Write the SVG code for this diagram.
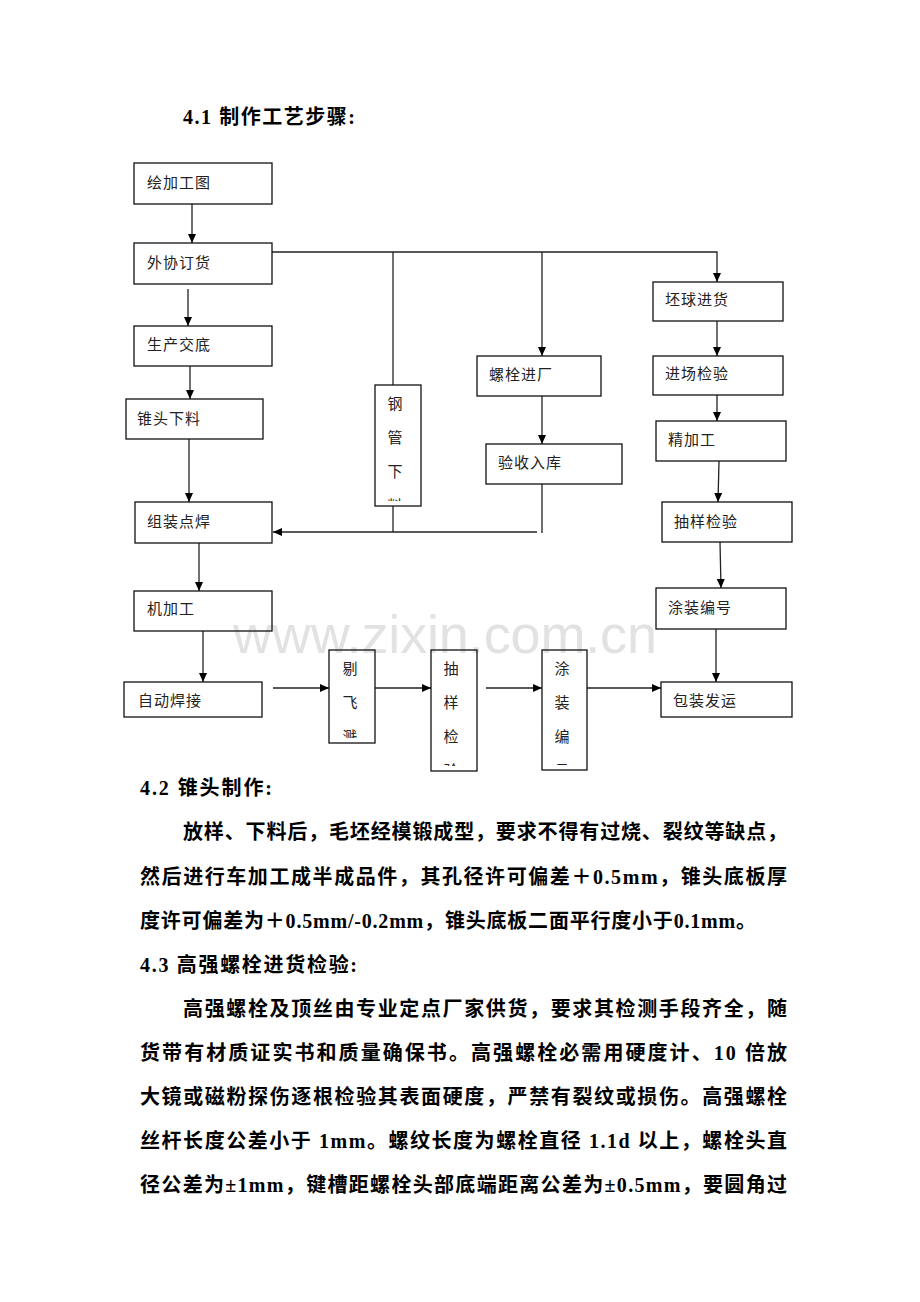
<svg xmlns="http://www.w3.org/2000/svg" width="920" height="1302" viewBox="0 0 920 1302">
<style>
.bx{fill:none;stroke:#111;stroke-width:1.3}
.ln{fill:none;stroke:#222;stroke-width:1.3}
.lb{font-family:"Noto Sans CJK SC",sans-serif;font-size:15px;fill:#222;letter-spacing:1px}
.vl{font-family:"Noto Sans CJK SC",sans-serif;font-size:15px;fill:#222;text-anchor:middle}
.h{font-family:"Liberation Serif","Noto Sans CJK SC",serif;font-size:20px;font-weight:bold;fill:#000}
.t{font-family:"Liberation Serif","Noto Sans CJK SC",serif;font-size:20px;font-weight:bold;fill:#000}
.wm{font-family:"Liberation Sans",Arial,sans-serif;font-size:54px;fill:#e2e2e2}
</style>
<defs>
<marker id="ah" markerWidth="9" markerHeight="8" refX="9" refY="4" orient="auto" markerUnits="userSpaceOnUse"><path d="M0,0 L9,4 L0,8 z" fill="#000"/></marker>
<clipPath id="c1"><rect x="375" y="385" width="46" height="116"/></clipPath>
<clipPath id="c2"><rect x="329" y="650" width="46" height="88"/></clipPath>
<clipPath id="c3"><rect x="431" y="650" width="46" height="116"/></clipPath>
<clipPath id="c4"><rect x="542" y="650" width="45" height="115"/></clipPath>
</defs>
<rect width="920" height="1302" fill="#fff"/>
<text class="wm" x="233" y="653" textLength="424">www.zixin.com.cn</text>

<text class="h" x="183" y="124" textLength="172">4.1 制作工艺步骤:</text>

<g id="connectors">
<line class="ln" x1="192" y1="204" x2="192" y2="243" marker-end="url(#ah)"/>
<line class="ln" x1="188" y1="289" x2="188" y2="326" marker-end="url(#ah)"/>
<line class="ln" x1="190" y1="366" x2="190" y2="399" marker-end="url(#ah)"/>
<line class="ln" x1="189" y1="439" x2="189" y2="502" marker-end="url(#ah)"/>
<line class="ln" x1="199" y1="543" x2="199" y2="591" marker-end="url(#ah)"/>
<line class="ln" x1="203" y1="631" x2="203" y2="682" marker-end="url(#ah)"/>
<line class="ln" x1="273" y1="688" x2="329" y2="688" marker-end="url(#ah)"/>
<line class="ln" x1="375" y1="688" x2="431" y2="688" marker-end="url(#ah)"/>
<line class="ln" x1="486" y1="688" x2="542" y2="688" marker-end="url(#ah)"/>
<line class="ln" x1="587" y1="688" x2="661" y2="688" marker-end="url(#ah)"/>
<polyline class="ln" points="272,252 717,252 717,282" marker-end="url(#ah)"/>
<line class="ln" x1="393" y1="252" x2="393" y2="385"/>
<line class="ln" x1="542" y1="252" x2="542" y2="356" marker-end="url(#ah)"/>
<line class="ln" x1="542" y1="396" x2="542" y2="444" marker-end="url(#ah)"/>
<line class="ln" x1="393" y1="506" x2="393" y2="532"/>
<line class="ln" x1="542" y1="484" x2="542" y2="533"/>
<line class="ln" x1="537" y1="532" x2="273" y2="532" marker-end="url(#ah)"/>
<line class="ln" x1="717" y1="321" x2="717" y2="356" marker-end="url(#ah)"/>
<line class="ln" x1="717" y1="395" x2="717" y2="421" marker-end="url(#ah)"/>
<line class="ln" x1="719" y1="461" x2="718" y2="502" marker-end="url(#ah)"/>
<line class="ln" x1="720" y1="542" x2="721" y2="588" marker-end="url(#ah)"/>
<line class="ln" x1="716" y1="629" x2="716" y2="682" marker-end="url(#ah)"/>
</g>

<g id="n1"><rect class="bx" x="134" y="163" width="138" height="41"/><text class="lb" x="147" y="188">绘加工图</text></g>
<g id="n2"><rect class="bx" x="134" y="243" width="138" height="41"/><text class="lb" x="147" y="268">外协订货</text></g>
<g id="n3"><rect class="bx" x="134" y="326" width="138" height="40"/><text class="lb" x="147" y="350">生产交底</text></g>
<g id="n4"><rect class="bx" x="126" y="399" width="137" height="40"/><text class="lb" x="137" y="424">锥头下料</text></g>
<g id="n5"><rect class="bx" x="135" y="502" width="137" height="41"/><text class="lb" x="147" y="527">组装点焊</text></g>
<g id="n6"><rect class="bx" x="134" y="591" width="138" height="40"/><text class="lb" x="147" y="614">机加工</text></g>
<g id="n7"><rect class="bx" x="124" y="682" width="138" height="35"/><text class="lb" x="138" y="706">自动焊接</text></g>

<g id="n8"><rect class="bx" x="375" y="385" width="46" height="121"/>
<g clip-path="url(#c1)"><text class="vl" x="395" y="409">钢</text><text class="vl" x="395" y="443">管</text><text class="vl" x="395" y="477">下</text><text class="vl" x="395" y="511">料</text></g></g>

<g id="n9"><rect class="bx" x="477" y="356" width="124" height="40"/><text class="lb" x="489" y="380">螺栓进厂</text></g>
<g id="n10"><rect class="bx" x="486" y="444" width="136" height="40"/><text class="lb" x="498" y="468">验收入库</text></g>

<g id="n11"><rect class="bx" x="653" y="282" width="130" height="39"/><text class="lb" x="665" y="305">坯球进货</text></g>
<g id="n12"><rect class="bx" x="653" y="356" width="130" height="39"/><text class="lb" x="665" y="379">进场检验</text></g>
<g id="n13"><rect class="bx" x="656" y="421" width="130" height="40"/><text class="lb" x="668" y="445">精加工</text></g>
<g id="n14"><rect class="bx" x="662" y="502" width="130" height="40"/><text class="lb" x="674" y="527">抽样检验</text></g>
<g id="n15"><rect class="bx" x="656" y="588" width="130" height="41"/><text class="lb" x="668" y="613">涂装编号</text></g>
<g id="n16"><rect class="bx" x="661" y="682" width="131" height="35"/><text class="lb" x="673" y="706">包装发运</text></g>

<g id="n17"><rect class="bx" x="329" y="650" width="46" height="93"/>
<g clip-path="url(#c2)"><text class="vl" x="350" y="674">剔</text><text class="vl" x="350" y="708">飞</text><text class="vl" x="350" y="742">溅</text></g></g>
<g id="n18"><rect class="bx" x="431" y="650" width="46" height="121"/>
<g clip-path="url(#c3)"><text class="vl" x="451" y="674">抽</text><text class="vl" x="451" y="708">样</text><text class="vl" x="451" y="742">检</text><text class="vl" x="451" y="776">验</text></g></g>
<g id="n19"><rect class="bx" x="542" y="650" width="45" height="120"/>
<g clip-path="url(#c4)"><text class="vl" x="562" y="674">涂</text><text class="vl" x="562" y="708">装</text><text class="vl" x="562" y="742">编</text><text class="vl" x="562" y="776">号</text></g></g>

<g id="body">
<text class="h" x="140" y="795" textLength="132">4.2 锥头制作:</text>
<text class="t" x="183" y="839" textLength="604">放样、下料后，毛坯经模锻成型，要求不得有过烧、裂纹等缺点，</text>
<text class="t" x="140" y="884" textLength="647">然后进行车加工成半成品件，其孔径许可偏差＋0.5mm，锥头底板厚</text>
<text class="t" x="140" y="928" textLength="616">度许可偏差为＋0.5mm/-0.2mm，锥头底板二面平行度小于0.1mm。</text>
<text class="h" x="140" y="972" textLength="217">4.3 高强螺栓进货检验:</text>
<text class="t" x="183" y="1016" textLength="604">高强螺栓及顶丝由专业定点厂家供货，要求其检测手段齐全，随</text>
<text class="t" x="140" y="1060" textLength="647">货带有材质证实书和质量确保书。高强螺栓必需用硬度计、10 倍放</text>
<text class="t" x="140" y="1104" textLength="647">大镜或磁粉探伤逐根检验其表面硬度，严禁有裂纹或损伤。高强螺栓</text>
<text class="t" x="140" y="1148" textLength="647">丝杆长度公差小于 1mm。螺纹长度为螺栓直径 1.1d 以上，螺栓头直</text>
<text class="t" x="140" y="1192" textLength="647">径公差为±1mm，键槽距螺栓头部底端距离公差为±0.5mm，要圆角过</text>
</g>
</svg>
